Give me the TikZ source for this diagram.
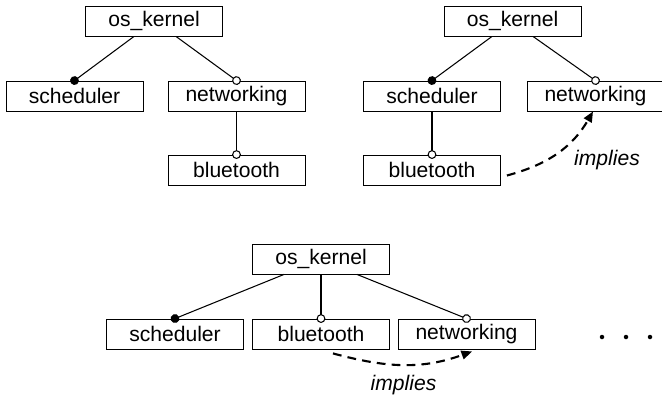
\documentclass[tikz,border=0pt]{standalone}
\usepackage{fontspec}
\setmainfont{Liberation Sans}
\usetikzlibrary{arrows.meta}

\begin{document}
\begin{tikzpicture}[
    box/.style={draw, line width=0.5pt, minimum width=2.74cm, minimum height=0.6cm,
      inner sep=0pt, font=\fontsize{12}{14}\selectfont},
    link/.style={line width=0.6pt},
    mand/.style={link, -{Circle[length=5pt]}, shorten >=-2.5pt},
    opt/.style={link, -{Circle[fill=white, length=5pt]}, shorten >=-2.5pt},
    impl/.style={line width=1.2pt, dash pattern=on 5pt off 3.5pt,
      -{Triangle[length=6pt, width=5pt]}},
    lbl/.style={font=\fontsize{12}{14}\selectfont\itshape}]
  \useasboundingbox (0,0) rectangle (13.24,7.9);
  % networking over bluetooth
  \node[box] (k1) at (3.08,7.48) {os\_kernel};
  \node[box] (s1) at (1.49,5.98) {scheduler};
  \node[box] (n1) at (4.73,5.98) {networking};
  \node[box] (b1) at (4.73,4.50) {bluetooth};
  \draw[mand] ([xshift=-4mm]k1.south) -- (s1.north);
  \draw[opt] ([xshift=4.4mm]k1.south) -- (n1.north);
  \draw[opt] (n1.south) -- (b1.north);
  % bluetooth moved under scheduler
  \node[box] (k2) at (10.25,7.48) {os\_kernel};
  \node[box] (s2) at (8.64,5.98) {scheduler};
  \node[box] (n2) at (11.91,5.98) {networking};
  \node[box] (b2) at (8.64,4.50) {bluetooth};
  \draw[mand] ([xshift=-4.1mm]k2.south) -- (s2.north);
  \draw[opt] ([xshift=4.1mm]k2.south) -- (n2.north);
  \draw[opt] (s2.south) -- (b2.north);
  \draw[impl] ([xshift=1.2mm,yshift=-1.1mm]b2.east) to[out=15,in=-120] ([xshift=-0.5mm]n2.south);
  \node[lbl] (imp2) at (12.14,4.70) {implies};
  % flat tree
  \node[box] (k3) at (6.42,2.72) {os\_kernel};
  \node[box] (s3) at (3.50,1.22) {scheduler};
  \node[box] (b3) at (6.42,1.22) {bluetooth};
  \node[box] (n3) at (9.33,1.22) {networking};
  \draw[mand] ([xshift=-7.4mm]k3.south) -- (s3.north);
  \draw[opt] (k3.south) -- (b3.north);
  \draw[opt] ([xshift=7.2mm]k3.south) -- (n3.north);
  \draw[impl] ([xshift=2.4mm,yshift=-0.8mm]b3.south) to[out=-15,in=-160] ([xshift=1.1mm,yshift=-0.4mm]n3.south);
  \node[lbl] (imp3) at (8.07,0.20) {implies};
  % more
  \fill (12.04,1.16) circle (0.045) (12.52,1.16) circle (0.045) (13.00,1.16) circle (0.045);
\end{tikzpicture}
\end{document}
